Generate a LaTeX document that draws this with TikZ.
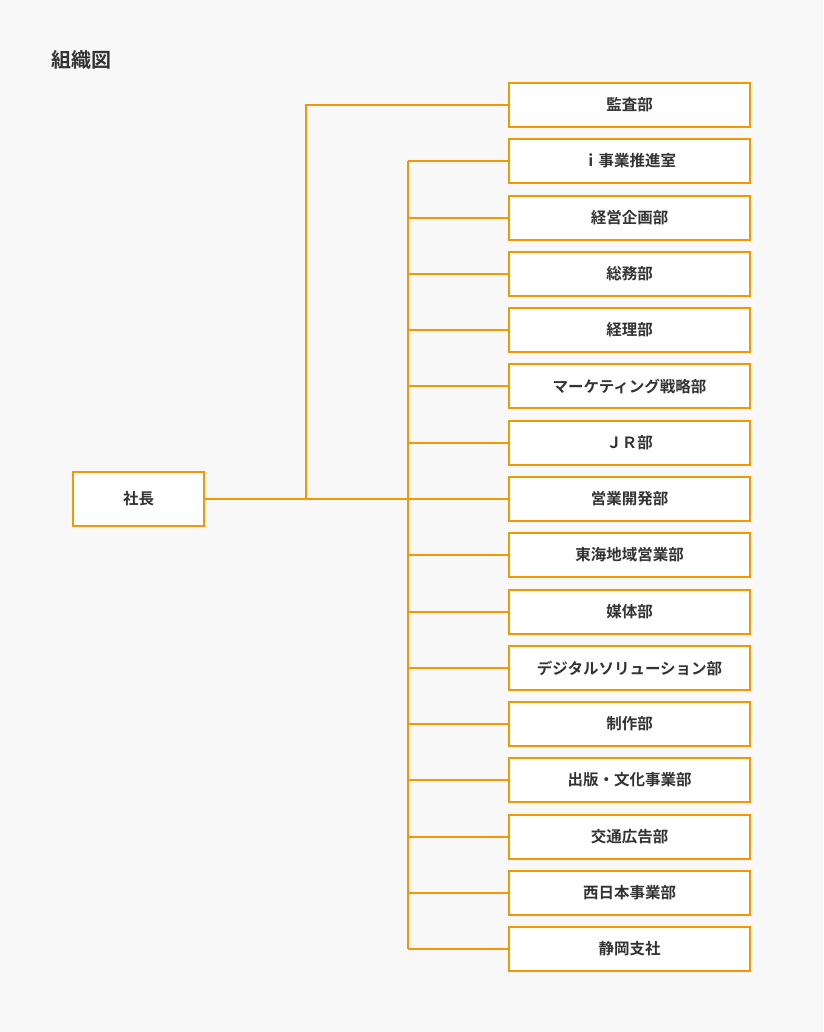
\documentclass[tikz,border=0pt]{standalone}
\usepackage{fontspec}
\setmainfont{Noto Sans CJK JP}[BoldFont={Noto Sans CJK JP Bold}]
\definecolor{org}{HTML}{F39800}
\definecolor{bg}{HTML}{F8F8F8}
\definecolor{txt}{HTML}{333333}
\begin{document}
\begin{tikzpicture}[x=1pt,y=-1pt,
  dept/.style={draw=org,line width=1.6pt,fill=white,minimum width=241pt,minimum height=44pt,inner sep=0pt,font=\fontsize{15.5}{18}\selectfont\bfseries,text=txt},
  conn/.style={draw=org,line width=1.6pt}]
\fill[bg] (0,0) rectangle (823,1032);
\useasboundingbox (0,0) rectangle (823,1032);
\node[anchor=west,font=\fontsize{20}{24}\selectfont\bfseries,text=txt] (title) at (48,60) {組織図};
\node[dept,minimum width=131pt,minimum height=54pt] (pres) at (138.5,499) {社長};
\coordinate (j1) at (306,499);
\coordinate (j2) at (408,499);
\foreach \i/\y/\t in {0/105/監査部,1/161/ｉ事業推進室,2/218/経営企画部,3/274/総務部,4/330/経理部,5/386/マーケティング戦略部,6/443/ＪＲ部,7/499/営業開発部,8/555/東海地域営業部,9/612/媒体部,10/668/デジタルソリューション部,11/724/制作部,12/780/出版・文化事業部,13/837/交通広告部,14/893/西日本事業部,15/949/静岡支社}{
  \node[dept] (d\i) at (629.5,\y) {\t};
}
\draw[conn] (pres.east) -- (j2);
\draw[conn] (j1) |- (d0.west);
\draw[conn] (d1.west -| j2) -- (d15.west -| j2);
\foreach \i in {1,...,15}{\draw[conn] (d\i.west -| j2) -- (d\i.west);}
\end{tikzpicture}
\end{document}
